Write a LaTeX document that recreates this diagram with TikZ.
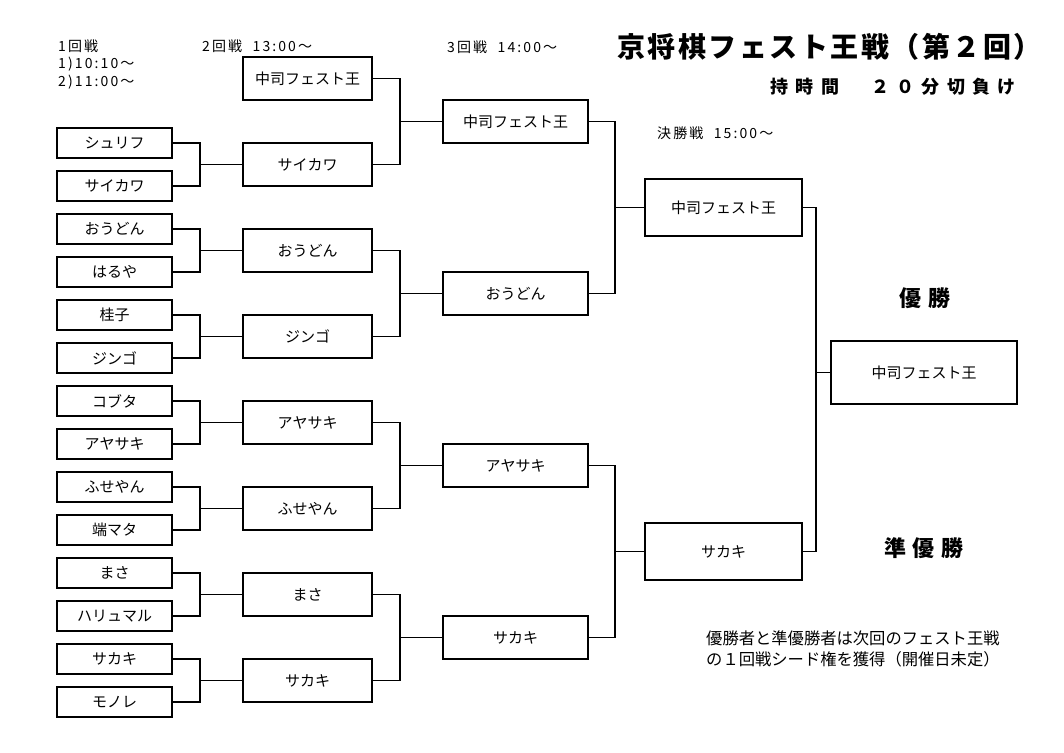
\documentclass[tikz,border=0pt]{standalone}
\usepackage{fontspec}
\setmainfont{Noto Sans CJK JP}
\usetikzlibrary{calc}

% join two entries to the winner's box
\newcommand{\joinpair}[4]{%
  \path (#3.west) ++(-#4,0) coordinate (jn);
  \draw [link] (#1.east) -| (jn) |- (#2.east);
  \draw [link] (jn) -- (#3.west);}

\tikzset{
  link/.style={line width=1.9pt},
  namebox/.style={draw, line width=1.9pt, inner sep=0pt, font=\fontsize{15pt}{18pt}\selectfont},
  r1box/.style={namebox, minimum width=115pt, minimum height=30pt},
  r2box/.style={namebox, minimum width=129pt, minimum height=43pt},
  r3box/.style={namebox, minimum width=145pt, minimum height=43pt},
  sfbox/.style={namebox, minimum width=157pt, minimum height=57pt},
  winbox/.style={namebox, minimum width=186pt, minimum height=63pt},
  smalltxt/.style={anchor=west, inner sep=0pt, font=\fontsize{14pt}{16pt}\selectfont\addfontfeature{LetterSpace=15}},
  bigtxt/.style={inner sep=0pt, font=\fontsize{22pt}{26pt}\selectfont\bfseries\addfontfeature{LetterSpace=28}}
}

\begin{document}
\begin{tikzpicture}[x=1pt, y=-1pt]
	\useasboundingbox (0,0) rectangle (1064,752);

	% headings
	\node [smalltxt] (h1) at (58, 46) {1回戦};
	\node [smalltxt] (h1a) at (58, 64) {1)10:10～};
	\node [smalltxt] (h1b) at (58, 82) {2)11:00～};
	\node [smalltxt] (h2) at (202, 46) {2回戦\ \ 13:00～};
	\node [smalltxt] (h3) at (447, 47) {3回戦\ \ 14:00～};
	\node [smalltxt] (h4) at (657, 133) {決勝戦\ \ 15:00～};
	\node [anchor=west, inner sep=0pt, font=\fontsize{28pt}{32pt}\selectfont\bfseries\addfontfeature{LetterSpace=9}] (title) at (617, 47) {京将棋フェスト王戦（第２回）};
	\node [inner sep=0pt, font=\fontsize{18pt}{22pt}\selectfont\bfseries\addfontfeature{LetterSpace=40}] (rule) at (893, 87) {持時間　２０分切負け};

	% round 1
	\foreach \name [count=\i] in {シュリフ,サイカワ,おうどん,はるや,桂子,ジンゴ,コブタ,アヤサキ,ふせやん,端マタ,まさ,ハリュマル,サカキ,モノレ}
		\node [r1box] (a\i) at (114.5, 100+43*\i) {\name};

	% round 2
	\foreach \name [count=\i] in {中司フェスト王,サイカワ,おうどん,ジンゴ,アヤサキ,ふせやん,まさ,サカキ}
		\node [r2box] (b\i) at (307.5, -7.5+86*\i) {\name};

	% round 3
	\foreach \name [count=\i] in {中司フェスト王,おうどん,アヤサキ,サカキ}
		\node [r3box] (c\i) at (515.5, -50.5+172*\i) {\name};

	% final
	\node [sfbox] (d1) at (723.5, 207.5) {中司フェスト王};
	\node [sfbox] (d2) at (723.5, 551.5) {サカキ};
	\node [winbox] (win) at (924, 372.5) {中司フェスト王};

	\foreach \k [evaluate=\k as \p using int(2*\k-1), evaluate=\k as \q using int(2*\k), evaluate=\k as \w using int(\k+1)] in {1,...,7}
		\joinpair{a\p}{a\q}{b\w}{42};
	\foreach \k [evaluate=\k as \p using int(2*\k-1), evaluate=\k as \q using int(2*\k)] in {1,...,4}
		\joinpair{b\p}{b\q}{c\k}{42};
	\joinpair{c1}{c2}{d1}{29};
	\joinpair{c3}{c4}{d2}{29};
	\joinpair{d1}{d2}{win}{14};

	\node [bigtxt] (first) at (925, 298) {優勝};
	\node [bigtxt] (second) at (924, 548) {準優勝};

	% note
	\node [anchor=west, inner sep=0pt, align=left, font=\fontsize{16.3pt}{21pt}\selectfont] (note) at (706, 649) {優勝者と準優勝者は次回のフェスト王戦\\の１回戦シード権を獲得（開催日未定）};
\end{tikzpicture}
\end{document}
